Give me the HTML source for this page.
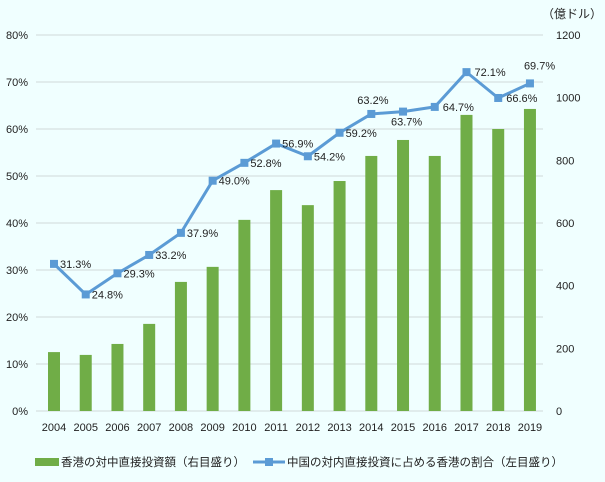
<!DOCTYPE html>
<html><head><meta charset="utf-8"><style>
body{margin:0;background:#f0ffff;}
svg{display:block;font-family:"Liberation Sans","Noto Sans CJK JP",sans-serif;}
</style></head><body>
<svg id="c" width="605" height="482">
<rect width="605" height="482" fill="#f0ffff"/>
<g id="grid"></g><g id="bars"></g><g id="line"></g><g id="labels"></g>
<text x="572" y="18" font-size="12" text-anchor="middle" fill="#222">（億ドル）</text>
<g>
<rect x="35" y="458" width="24" height="8" fill="#70ad47"/>
<text x="61" y="466" font-size="11.5" fill="#222">香港の対中直接投資額（右目盛り）</text>
<line x1="253" y1="462" x2="285" y2="462" stroke="#5b9bd5" stroke-width="3"/>
<rect x="265" y="458" width="8" height="8" fill="#5b9bd5"/>
<text x="287" y="466" font-size="11.5" fill="#222">中国の対内直接投資に占める香港の割合（左目盛り）</text>
</g>
</svg>
<script>
const years=["2004","2005","2006","2007","2008","2009","2010","2011","2012","2013","2014","2015","2016","2017","2018","2019"];
const amounts=[188,179,214,278,412,460,610,705,657,734,814,865,814,945,900,964];
const shares=[31.3,24.8,29.3,33.2,37.9,49.0,52.8,56.9,54.2,59.2,63.2,63.7,64.7,72.1,66.6,69.7];
const leftTicks=[0,10,20,30,40,50,60,70,80];
const rightTicks=[0,200,400,600,800,1000,1200];
const NS="http://www.w3.org/2000/svg";
const x0=54,step=31.73,yBase=411,yTop=35;
const xs=i=>x0+i*step;
const yL=v=>yBase-(v/80)*(yBase-yTop);
const yR=v=>yBase-(v/1200)*(yBase-yTop);
function mk(t,a,p){const e=document.createElementNS(NS,t);for(const k in a)e.setAttribute(k,a[k]);p.appendChild(e);return e;}
const g=document.getElementById('grid');
leftTicks.forEach(v=>{
 const l=mk('line',{x1:36,x2:543,y1:yL(v),y2:yL(v),stroke:'#d0d8d8','stroke-width':1},g);
 
 
 const t=mk('text',{x:28,y:yL(v)+4,'font-size':11,'text-anchor':'end',fill:'#222'},g);t.textContent=v+'%';
 
 
});
rightTicks.forEach(v=>{
 const t=mk('text',{x:556,y:yR(v)+4,'font-size':11,fill:'#222'},g);t.textContent=v;
 
 
});
const b=document.getElementById('bars');
amounts.forEach((v,i)=>{
 const r=mk('rect',{x:xs(i)-6,y:yR(v),width:12,height:yBase-yR(v),fill:'#70ad47'},b);
 
 
 const t=mk('text',{x:xs(i),y:431,'font-size':11,'text-anchor':'middle',fill:'#222'},b);t.textContent=years[i];
 
 
});
const L=document.getElementById('line');
const p=mk('polyline',{points:shares.map((v,i)=>xs(i)+','+yL(v)).join(' '),fill:'none',stroke:'#5b9bd5','stroke-width':3,'stroke-linejoin':'round'},L);


const lb=document.getElementById('labels');
const off=[[6,4],[6,4],[6,4],[6,4],[6,4],[6,4],[6,4],[6,4],[6,4],[6,4],[-14,-10],[-12,14],[8,4],[8,4],[8,4],[-6,-14]];
shares.forEach((v,i)=>{
 const m=mk('rect',{x:xs(i)-4,y:yL(v)-4,width:8,height:8,fill:'#5b9bd5'},L);
 
 
 const t=mk('text',{x:xs(i)+off[i][0],y:yL(v)+off[i][1],'font-size':11,fill:'#222'},lb);t.textContent=v.toFixed(1)+'%';
 
 
});
</script>
</body></html>
